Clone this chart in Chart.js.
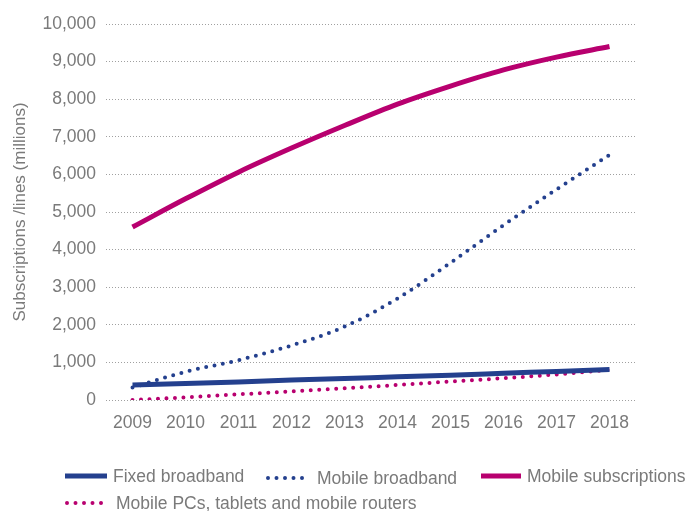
<!DOCTYPE html>
<html>
<head>
<meta charset="utf-8">
<script src="https://cdn.jsdelivr.net/npm/chart.js@4"></script>
<style>
    html, body { margin: 0; padding: 0; background: #fff; }
    #wrap { position: relative; width: 685px; height: 511px; font-family: "Liberation Sans", Arial, sans-serif; overflow: hidden; }
    #chart { position: absolute; left: 0; top: 0; }
    .leg { position: absolute; display: flex; align-items: center; font-size: 17.5px; color: #7a7a7a; white-space: nowrap; }
    .leg svg { margin-right: 6px; }
</style>
</head>
<body>
<div id="wrap">
    <canvas id="chart" width="685" height="511"></canvas>
    <div id="legend"></div>
</div>
<script>
// dữ liệu
const years = ['2009', '2010', '2011', '2012', '2013', '2014', '2015', '2016', '2017', '2018'];
const fixedBroadband = [400, 440, 480, 530, 570, 620, 660, 710, 760, 810];
const mobileBroadband = [330, 750, 1060, 1450, 1950, 2700, 3650, 4650, 5600, 6520];
const mobileSubscriptions = [4600, 5350, 6060, 6700, 7300, 7870, 8350, 8780, 9120, 9400];
const mobilePCs = [0, 70, 150, 230, 310, 400, 490, 580, 680, 800];
const yTicks = [0, 1000, 2000, 3000, 4000, 5000, 6000, 7000, 8000, 9000, 10000];

const blue = '#24408e';
const magenta = '#b8006f';
const grey = '#7a7a7a';
const font = '"Liberation Sans", Arial, sans-serif';

const dotted = {borderDash: [0, 8.5], borderCapStyle: 'round', borderWidth: 4};

new Chart(document.getElementById('chart'), {
    type: 'line',
    data: {
        labels: years,
        datasets: [
            {label: 'Fixed broadband', data: fixedBroadband, borderColor: blue, borderWidth: 5},
            Object.assign({label: 'Mobile broadband', data: mobileBroadband, borderColor: blue}, dotted),
            {label: 'Mobile subscriptions', data: mobileSubscriptions, borderColor: magenta, borderWidth: 5},
            Object.assign({label: 'Mobile PCs, tablets and mobile routers', data: mobilePCs, borderColor: magenta}, dotted)
        ]
    },
    options: {
        responsive: false,
        animation: false,
        layout: {padding: {top: 24, right: 49, bottom: 0, left: 0}},
        elements: {
            point: {radius: 0},
            line: {tension: 0.4, cubicInterpolationMode: 'monotone', fill: false}
        },
        plugins: {legend: {display: false}, tooltip: {enabled: false}},
        scales: {
            x: {
                offset: true,
                grid: {display: false, drawTicks: false},
                border: {display: false},
                ticks: {color: grey, font: {family: font, size: 17.5}, padding: 13, maxRotation: 0},
                afterFit: (scale) => { scale.height = 111; }
            },
            y: {
                min: 0,
                max: 10000,
                afterBuildTicks: (scale) => { scale.ticks = yTicks.map(v => ({value: v})); },
                grid: {color: '#a0a0a0', lineWidth: 1, drawTicks: false},
                border: {display: false, dash: [1, 2]},
                ticks: {
                    color: grey,
                    font: {family: font, size: 17.5},
                    padding: 10,
                    callback: (v) => v.toLocaleString('en-US')
                },
                title: {display: true, text: 'Subscriptions /lines (millions)', color: grey, font: {family: font, size: 17}, padding: {top: 10, bottom: 0}},
                afterFit: (scale) => { scale.width = 106; }
            }
        }
    }
});

// chú thích
const legendItems = [
    {text: 'Fixed broadband', color: blue, dash: false, x: 65, y: 476, w: 42},
    {text: 'Mobile broadband', color: blue, dash: true, x: 266, y: 478, w: 45},
    {text: 'Mobile subscriptions', color: magenta, dash: false, x: 481, y: 476, w: 40},
    {text: 'Mobile PCs, tablets and mobile routers', color: magenta, dash: true, x: 65, y: 503, w: 45}
];
const legendBox = document.getElementById('legend');
legendItems.forEach(item => {
    const div = document.createElement('div');
    div.className = 'leg';
    div.style.left = item.x + 'px';
    div.style.top = (item.y - 10) + 'px';
    div.style.height = '20px';
    const line = item.dash
        ? `<line x1="2" y1="5" x2="${item.w - 2}" y2="5" stroke="${item.color}" stroke-width="4" stroke-linecap="round" stroke-dasharray="0 8.5"/>`
        : `<line x1="0" y1="5" x2="${item.w}" y2="5" stroke="${item.color}" stroke-width="5"/>`;
    div.innerHTML = `<svg width="${item.w}" height="10">${line}</svg><span>${item.text}</span>`;
    legendBox.appendChild(div);
});
</script>
</body>
</html>
